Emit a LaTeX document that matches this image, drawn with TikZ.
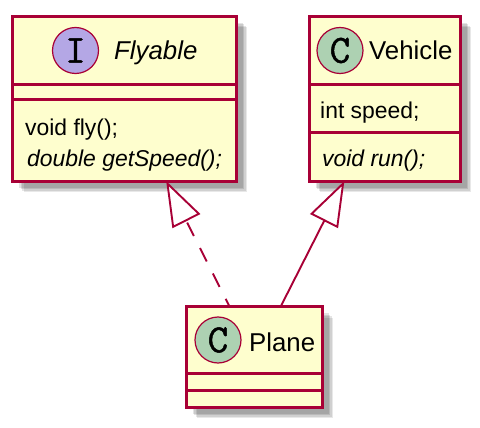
\documentclass[tikz,border=0pt]{standalone}
\usepackage{fontspec}
\setmainfont{Liberation Sans}
\newfontfamily\badgefont[FakeBold=1.2]{Latin Modern Mono}
\usepackage{tikz}
\usetikzlibrary{arrows.meta,shadows}
\definecolor{umlred}{HTML}{A80036}
\definecolor{umlfill}{HTML}{FEFECE}
\definecolor{umlviolet}{HTML}{B4A7E5}
\definecolor{umlgreen}{HTML}{ADD1B2}

\begin{document}
\begin{tikzpicture}[x=1pt,y=-1pt,
  cls/.style={draw=umlred, line width=3pt, fill=umlfill, outer sep=0pt, inner sep=0pt,
              drop shadow={shadow xshift=11pt, shadow yshift=-11pt, fill=black, opacity=.09},
              drop shadow={shadow xshift=9.5pt, shadow yshift=-9.5pt, fill=black, opacity=.1},
              drop shadow={shadow xshift=8pt, shadow yshift=-8pt, fill=black, opacity=.11},
              drop shadow={shadow xshift=6.5pt, shadow yshift=-6.5pt, fill=black, opacity=.11}},
  sep/.style={draw=umlred, line width=3pt},
  badge/.style={circle, draw=umlred, line width=1.2pt, minimum size=46pt, inner sep=0pt,
                font=\fontsize{40}{40}\selectfont\badgefont},
  ttl/.style={font=\fontsize{25.8}{28}\selectfont, inner sep=0pt},
  mem/.style={font=\fontsize{22.9}{26}\selectfont, anchor=base west, inner sep=0pt},
  arr/.style={draw=umlred, line width=1.9pt,
              -{Triangle[length=45pt, width=31pt, fill=white, line width=1.9pt]}}]
\useasboundingbox (0,0) rectangle (480,428);
% ---- Flyable ----
\node[cls, minimum width=223.5pt, minimum height=164.5pt] (flyable) at (124.25,98.75) {};
\draw[sep] (flyable.west |- 0,84.5) -- (flyable.east |- 0,84.5);
\draw[sep] (flyable.west |- 0,100) -- (flyable.east |- 0,100);
\node[badge, fill=umlviolet] (flyableb) at (75.5,50.5) {I};
\node[ttl, anchor=base west] (flyablet) at (114,60) {\itshape Flyable};
\node[mem] (fly) at (25,135.5) {void fly();};
\node[mem] (getspeed) at (27,167) {\itshape double getSpeed();};
% ---- Vehicle ----
\node[cls, minimum width=151pt, minimum height=164.5pt] (vehicle) at (384.5,98.75) {};
\draw[sep] (vehicle.west |- 0,84.5) -- (vehicle.east |- 0,84.5);
\draw[sep] (vehicle.west |- 0,132.5) -- (vehicle.east |- 0,132.5);
\node[badge, fill=umlgreen] (vehicleb) at (340,50.5) {C};
\node[ttl, anchor=base west] (vehiclet) at (369,60) {Vehicle};
\node[mem] (speed) at (320,118.5) {int speed;};
\node[mem] (run) at (322,167) {\itshape void run();};
% ---- Plane ----
\node[cls, minimum width=136pt, minimum height=100.5pt] (plane) at (254,356.75) {};
\draw[sep] (plane.west |- 0,373) -- (plane.east |- 0,373);
\draw[sep] (plane.west |- 0,390) -- (plane.east |- 0,390);
\node[badge, fill=umlgreen] (planeb) at (218,340) {C};
\node[ttl, anchor=base west] (planet) at (249,351) {Plane};
% ---- realizes / extends ----
\draw[arr, dash pattern=on 15pt off 13.5pt, dash phase=6.5pt] (plane.116) -- (flyable.-63.6);
\draw[arr] (plane.62.8) -- (vehicle.-116.8);
\end{tikzpicture}
\end{document}
